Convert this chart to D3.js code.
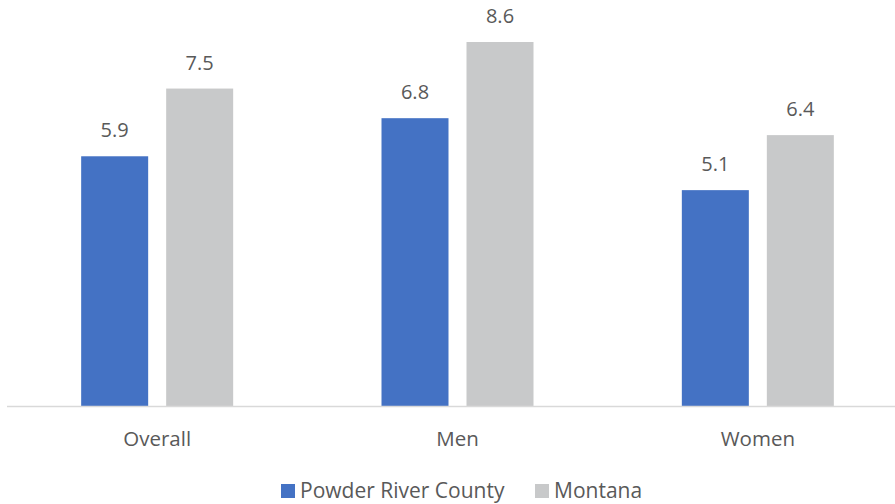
<!DOCTYPE html>
<html><head><meta charset="utf-8">
<script src="https://cdn.jsdelivr.net/npm/d3@7"></script>
<style>body{margin:0;background:#fff}svg{display:block}text{font-family:"Open Sans",sans-serif;fill:#595959}</style>
</head><body>
<svg id="c" width="895" height="504"></svg>
<script>
const categories = ["Overall", "Men", "Women"];
const seriesNames = ["Powder River County", "Montana"];
const powderRiver = [5.9, 6.8, 5.1];
const montana = [7.5, 8.6, 6.4];
const colors = ["#4472C4", "#C8C9CA"];

const svg = d3.select("#c");
const base = 406;
const x = d3.scaleBand().domain(categories).range([7, 908]).paddingInner(0).paddingOuter(0);
const y = d3.scaleLinear().domain([0, 8.6]).range([base, 42]);
const inner = d3.scaleBand().domain(seriesNames).range([0, 152]).paddingInner(18/85).paddingOuter(0);
const series = [powderRiver, montana];

const g = svg.append("g");
categories.forEach((c, i) => {
  const gx = x(c) + (x.bandwidth() - 152) / 2;
  series.forEach((s, j) => {
    const bx = gx + inner(seriesNames[j]);
    g.append("rect").attr("x", bx).attr("y", y(s[i])).attr("width", inner.bandwidth())
      .attr("height", base - y(s[i])).attr("fill", colors[j]);
    g.append("text").attr("x", bx + inner.bandwidth()/2).attr("y", y(s[i]) - 19)
      .attr("text-anchor", "middle").attr("font-size", 20).text(s[i].toFixed(1));
  });
});
// axis
const ax = svg.append("g").attr("transform", `translate(0,${base})`)
  .call(d3.axisBottom(x).tickSize(0).tickPadding(0));
ax.select(".domain").attr("stroke", "#D9D9D9").attr("stroke-width", 1.5).attr("d", `M7,0.5H908`);
ax.selectAll(".tick text").attr("font-size", 20.5).attr("fill", "#595959").attr("y", 40).attr("dy", 0)
  .style("font-family", '"Open Sans",sans-serif');

// legend
const leg = svg.append("g");
const items = [{n: seriesNames[0], c: colors[0], x: 281}, {n: seriesNames[1], c: colors[1], x: 535}];
items.forEach(it => {
  leg.append("rect").attr("x", it.x).attr("y", 484).attr("width", 14).attr("height", 14).attr("fill", it.c);
  leg.append("text").attr("x", it.x + 19).attr("y", 498).attr("font-size", 21).text(it.n);
});
</script>
</body></html>
